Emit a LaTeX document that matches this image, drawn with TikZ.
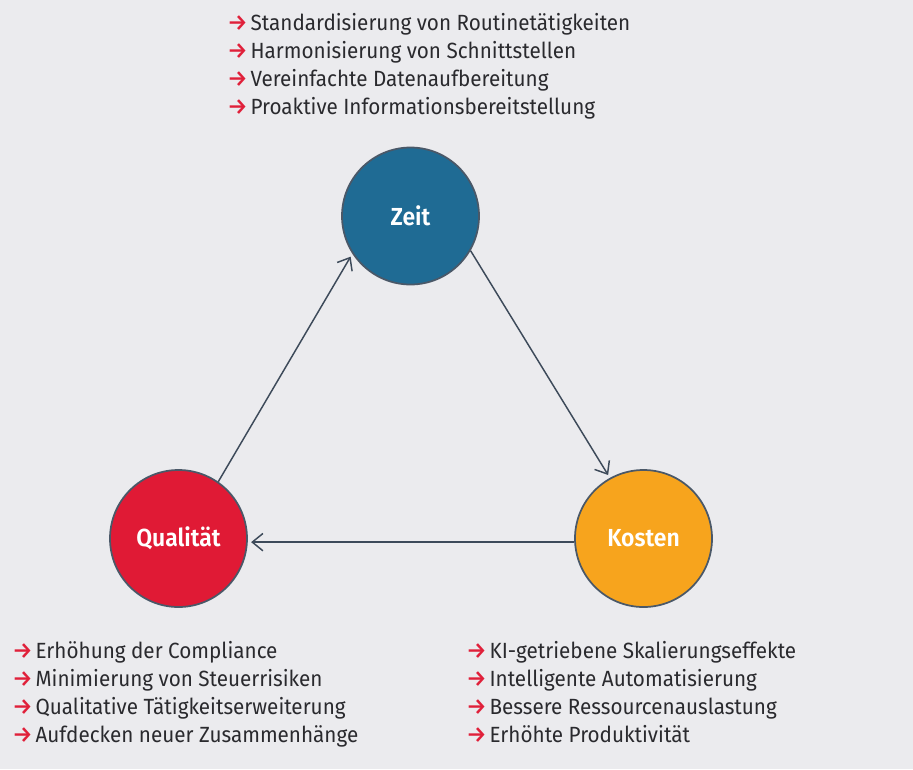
\documentclass[tikz,border=0pt]{standalone}
\usepackage{fontspec}
\setmainfont{Fira Sans}
\newfontfamily\listfont[FakeStretch=0.94]{Fira Sans}
\newfontfamily\hubfont[FakeStretch=0.93]{Fira Sans SemiBold}
\newfontfamily\markfont{Fira Sans Medium}
\usetikzlibrary{arrows.meta}
\definecolor{bg}{HTML}{EBEBEE}
\definecolor{zeitblue}{HTML}{1F6B94}
\definecolor{qualred}{HTML}{E01A35}
\definecolor{kostorange}{HTML}{F7A41D}
\definecolor{rim}{HTML}{4A5868}
\definecolor{linkcol}{HTML}{3D4A5A}
\definecolor{bullet}{HTML}{E0203A}
\definecolor{bodytext}{HTML}{2A2A2E}
\begin{document}
\begin{tikzpicture}[x=0.75pt,y=-0.75pt,
  hub/.style={circle,draw=rim,line width=1.3pt,minimum size=137*0.75pt,inner sep=0pt,
    text=white,font=\hubfont\fontsize{18.5}{20}\selectfont},
  link/.style={draw=linkcol,line width=1.1pt,-{Straight Barb[length=8pt,width=13pt,line width=1.1pt]},shorten >=2.5pt},
  item/.style={anchor=mid west,inner sep=0pt,text=bodytext,font=\listfont\fontsize{16.5}{18}\selectfont}]
\fill[bg] (0,0) rectangle (913,769);
\useasboundingbox (0,0) rectangle (913,769);
% red arrow bullet followed by the item text
\newcommand\pt[1]{\makebox[17.5pt][l]{\markfont\fontsize{17}{18}\selectfont\color{bullet}→}#1}

\node[hub,fill=zeitblue] (zeit) at (410.5,216) {Zeit};
\node[hub,fill=qualred] (qual) at (178.5,538.5) {Qualität};
\node[hub,fill=kostorange] (kost) at (643.5,538.5) {Kosten};

\draw[link] (qual.55) -- (zeit.213);
\draw[link] (zeit.-30) -- (kost.119);
\draw[link] (kost.183) -- (qual.-3);

\node[item] (z1) at (227,27) {\pt{Standardisierung von Routinetätigkeiten}};
\node[item] (z2) at (227,55) {\pt{Harmonisierung von Schnittstellen}};
\node[item] (z3) at (227,83) {\pt{Vereinfachte Datenaufbereitung}};
\node[item] (z4) at (227,111) {\pt{Proaktive Informationsbereitstellung}};

\node[item] (q1) at (12,655) {\pt{Erhöhung der Compliance}};
\node[item] (q2) at (12,682.5) {\pt{Minimierung von Steuerrisiken}};
\node[item] (q3) at (12,710.5) {\pt{Qualitative Tätigkeitserweiterung}};
\node[item] (q4) at (12,738.5) {\pt{Aufdecken neuer Zusammenhänge}};

\node[item] (k1) at (466,655) {\pt{KI-getriebene Skalierungseffekte}};
\node[item] (k2) at (466,682.5) {\pt{Intelligente Automatisierung}};
\node[item] (k3) at (466,710.5) {\pt{Bessere Ressourcenauslastung}};
\node[item] (k4) at (466,738.5) {\pt{Erhöhte Produktivität}};
\end{tikzpicture}
\end{document}
